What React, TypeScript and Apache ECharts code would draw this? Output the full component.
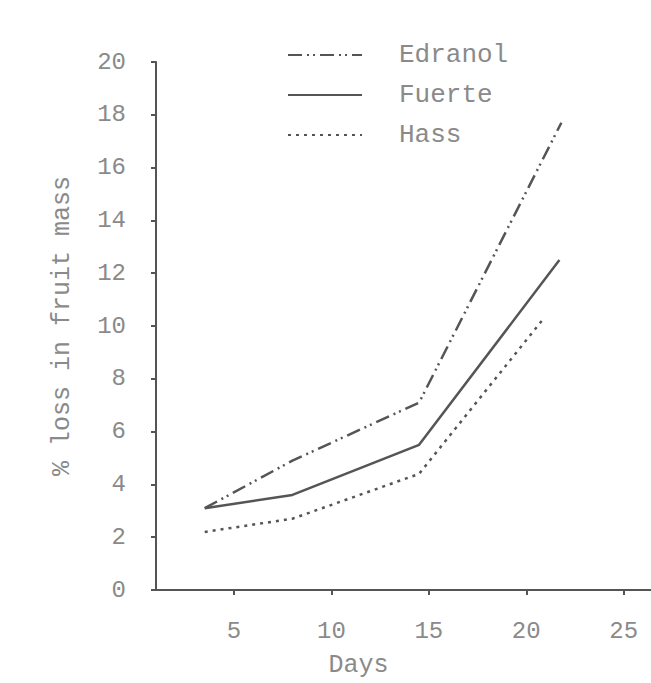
import React, { useEffect, useRef } from "react";
import * as echarts from "echarts";

const xTicks = [5, 10, 15, 20, 25];
const yTicks = [0, 2, 4, 6, 8, 10, 12, 14, 16, 18, 20];
const edranolX = [3.5, 8, 14.5, 21.8];
const edranolY = [3.1, 4.9, 7.1, 17.7];
const fuerteX = [3.5, 8, 14.5, 21.7];
const fuerteY = [3.1, 3.6, 5.5, 12.5];
const hassX = [3.5, 8, 14.5, 20.8];
const hassY = [2.2, 2.7, 4.4, 10.2];

const FONT = "'Liberation Mono', 'DejaVu Sans Mono', monospace";
const TEXT = "#8a8a8a";
const LINE = "#555555";

const pairs = (xs: number[], ys: number[]) => xs.map((x, i) => [x, ys[i]]);

export default function App() {
  const ref = useRef<HTMLDivElement>(null);
  useEffect(() => {
    if (!ref.current) return;
    const chart = echarts.init(ref.current, null, { renderer: "svg" });
    chart.setOption({
      animation: false,
      backgroundColor: "#ffffff",
      grid: { left: 156, top: 62, right: 0, bottom: 92 },
      legend: {
        orient: "vertical",
        left: 282,
        top: 37,
        itemWidth: 74,
        itemHeight: 14,
        itemGap: 14,
        itemStyle: { opacity: 0 },
        textStyle: {
          fontFamily: FONT,
          fontSize: 26,
          color: TEXT,
          padding: [0, 0, 0, 32],
        },
        data: ["Edranol", "Fuerte", "Hass"],
      },
      xAxis: {
        type: "value",
        min: 1,
        max: 26.4,
        name: "Days",
        nameLocation: "middle",
        nameGap: 63,
        nameTextStyle: {
          fontFamily: FONT,
          fontSize: 25,
          color: TEXT,
          padding: [0, 90, 0, 0],
        },
        splitLine: { show: false },
        axisLine: { lineStyle: { color: LINE, width: 2 } },
        axisTick: {
          show: true,
          customValues: xTicks,
          length: 5,
          lineStyle: { color: LINE, width: 2 },
        },
        axisLabel: {
          customValues: xTicks,
          margin: 29,
          fontFamily: FONT,
          fontSize: 24,
          color: TEXT,
        },
      },
      yAxis: {
        type: "value",
        min: 0,
        max: 20,
        interval: 2,
        name: "% loss in fruit mass",
        nameLocation: "middle",
        nameGap: 81,
        nameTextStyle: { fontFamily: FONT, fontSize: 25, color: TEXT },
        splitLine: { show: false },
        axisLine: { show: true, lineStyle: { color: LINE, width: 2 } },
        axisTick: { show: true, length: 5, lineStyle: { color: LINE, width: 2 } },
        axisLabel: {
          customValues: yTicks,
          margin: 30,
          fontFamily: FONT,
          fontSize: 24,
          color: TEXT,
        },
      },
      series: [
        {
          name: "Edranol",
          type: "line",
          symbol: "none",
          data: pairs(edranolX, edranolY),
          lineStyle: { color: LINE, width: 2.5, type: [14, 5, 2, 4, 2, 5] },
          itemStyle: { color: LINE },
        },
        {
          name: "Fuerte",
          type: "line",
          symbol: "none",
          data: pairs(fuerteX, fuerteY),
          lineStyle: { color: LINE, width: 2.5, type: "solid" },
          itemStyle: { color: LINE },
        },
        {
          name: "Hass",
          type: "line",
          symbol: "none",
          data: pairs(hassX, hassY),
          lineStyle: { color: LINE, width: 2.5, type: [3, 5] },
          itemStyle: { color: LINE },
        },
      ],
    });
    return () => chart.dispose();
  }, []);
  return <div ref={ref} style={{ width: 651, height: 683, position: "absolute", left: 0, top: 0 }} />;
}
